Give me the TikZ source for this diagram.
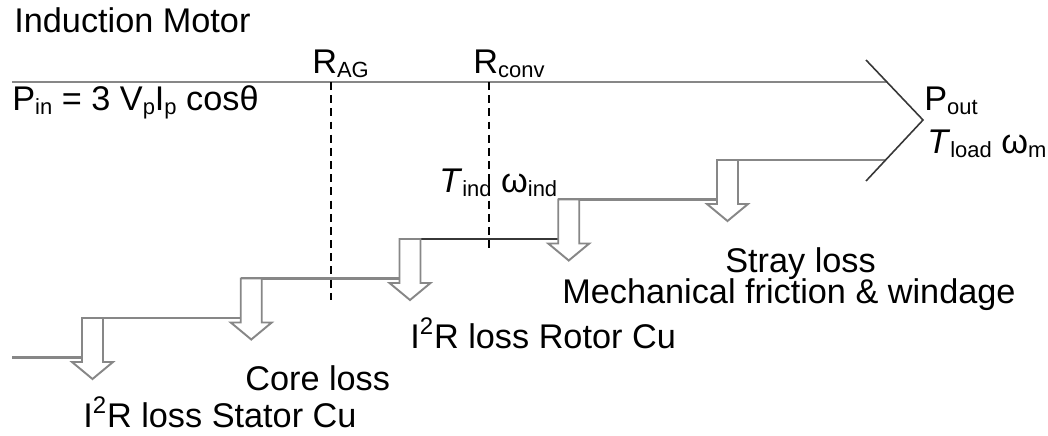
\documentclass[tikz,border=0pt]{standalone}
\usepackage{fontspec}
\setmainfont{Liberation Sans}
\usepackage{tikz}
\usetikzlibrary{calc}
\definecolor{imgray}{RGB}{135,135,135}
\definecolor{imdark}{RGB}{55,55,55}
\newcommand\lowtxt[1]{\raisebox{-2.8pt}{\fontsize{12.5}{13}\selectfont #1}}
\tikzset{
  stepline/.style={line width=1.4pt, draw=imgray},
  lossarrow/.style={line width=1.1pt, draw=imgray, fill=white, line join=miter},
  dashline/.style={line width=1.1pt, draw=black, dash pattern=on 4.5pt off 3pt},
  chevron/.style={line width=0.9pt, draw=imdark},
  lbl/.style={anchor=base west, inner sep=0pt, font=\fontsize{19.5}{23}\selectfont}
}

\begin{document}
\begin{tikzpicture}[x=0.02cm, y=-0.02cm]
\useasboundingbox (0,0) rectangle (1048,436);
\foreach \i/\nm in {0/stator,1/core,2/rotor,3/mech,4/stray} {
  \pgfmathsetmacro\xl{82+158.75*\i}
  \pgfmathsetmacro\yt{318-39.5*\i}
  \coordinate (\nm) at (\xl,\yt);
}
\coordinate (in) at (12,357.5);
\coordinate (pin) at (12,82);
\coordinate (ptop) at (887,82);
\coordinate (pbot) at (886,160);
\coordinate (ctop) at (866,60);
\coordinate (tip) at (923,120);
\coordinate (cbot) at (866,181);
\coordinate (ag) at (331,82);
\coordinate (conv) at (489,82);

\draw[stepline] (pin) -- (ptop);
\draw[stepline] (in) -- (in -| stator);
\draw[stepline] (stator) -- (stator -| core);
\draw[stepline] (core) -- (core -| rotor);
\draw[stepline, draw=imdark] (rotor) -- (rotor -| mech);
\draw[stepline] (mech) -- (mech -| stray);
\draw[stepline] (stray) -- (pbot);
\draw[chevron] (ctop) -- (tip) -- (cbot);

\draw[dashline] (ag) -- ++(0,218);
\draw[dashline] (conv) -- ++(0,170);

\foreach \nm in {stator,core,rotor,mech,stray}
  \draw[lossarrow] (\nm) -- ++(0,44) -- ++(-10,0) -- ++(20.5,17) -- ++(20.5,-17)
    -- ++(-10,0) -- ++(0,-44) -- cycle;

\node[lbl] (title) at (14,32) {Induction Motor};
\node[lbl] (pinlbl) at (12,110) {P\lowtxt{in} = 3 V\lowtxt{p}I\lowtxt{p} cosθ};
\node[lbl] (raglbl) at (312,73) {R\lowtxt{AG}};
\node[lbl] (rconvlbl) at (473,73) {R\lowtxt{conv}};
\node[lbl] (tindlbl) at (439,192) {\textit{T}\lowtxt{ind} ω\lowtxt{ind}};
\node[lbl] (poutlbl) at (924,110) {P\lowtxt{out}};
\node[lbl] (tloadlbl) at (927,153) {\textit{T}\lowtxt{load} ω\lowtxt{m}};
\node[lbl] (straylbl) at (725,272) {Stray loss};
\node[lbl] (mechlbl) at (562,303) {Mechanical friction \& windage};
\node[lbl] (rotorlbl) at (410,348) {I\textsuperscript{2}R loss Rotor Cu};
\node[lbl] (corelbl) at (245,390) {Core loss};
\node[lbl] (statorlbl) at (83,427) {I\textsuperscript{2}R loss Stator Cu};
\end{tikzpicture}
\end{document}
